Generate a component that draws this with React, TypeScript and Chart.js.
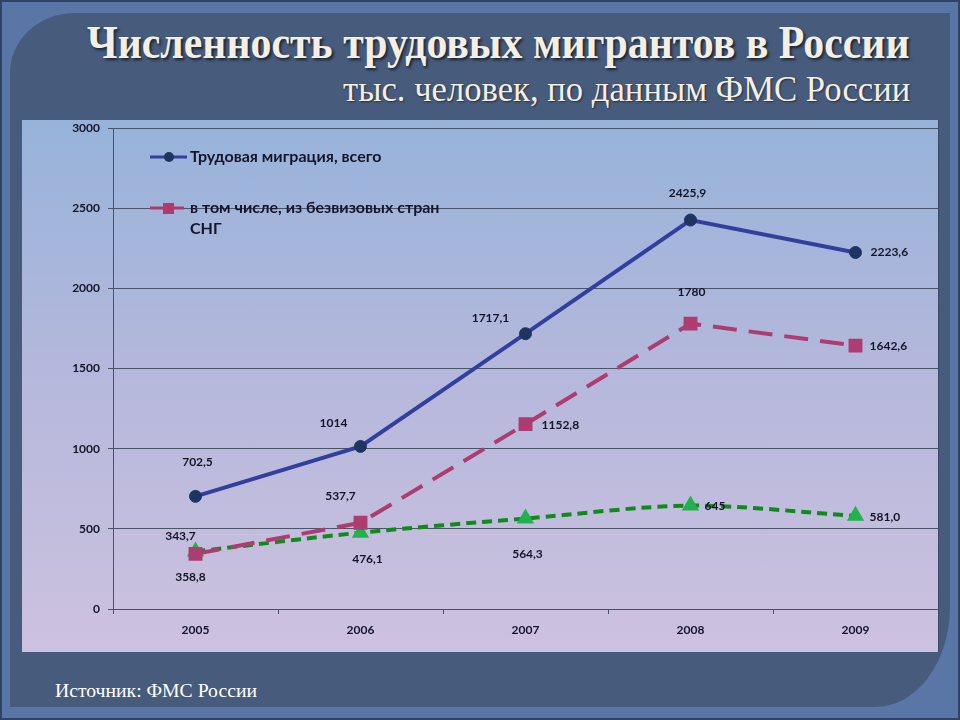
import React, { useEffect, useRef } from "react";
import { Chart, registerables } from "chart.js";

Chart.register(...registerables);

const categories = ["2005", "2006", "2007", "2008", "2009"];
const totalValues = [702.5, 1014, 1717.1, 2425.9, 2223.6];
const cisValues = [343.7, 537.7, 1152.8, 1780, 1642.6];
const otherValues = [358.8, 476.1, 564.3, 645, 581.0];
const totalText = ["702,5", "1014", "1717,1", "2425,9", "2223,6"];
const cisText = ["343,7", "537,7", "1152,8", "1780", "1642,6"];
const otherText = ["358,8", "476,1", "564,3", "645", "581,0"];
const legendLabels = ["Трудовая миграция, всего", "в том числе, из безвизовых стран", "СНГ"];
const yMin = 0;
const yMax = 3000;
const yStep = 500;

const TITLE = "Численность трудовых мигрантов в России";
const SUBTITLE = "тыс. человек, по данным ФМС России";
const FOOTER = "Источник: ФМС России";

// label placement per point: [dx, dy, align]
const totalPos: [number, number, CanvasTextAlign][] = [
  [2, -34, "center"], [-27, -23, "center"], [-35, -16, "center"], [-3, -27, "center"], [15, 0, "left"],
];
const cisPos: [number, number, CanvasTextAlign][] = [
  [-15, -18, "center"], [-20, -27, "center"], [16, 1, "left"], [1, -31, "center"], [14, 0, "left"],
];
const otherPos: [number, number, CanvasTextAlign][] = [
  [-5, 26, "center"], [7, 26, "center"], [2, 36, "center"], [14, 1, "left"], [14, 1, "left"],
];

const FONT_FAMILY = "Lato, 'Open Sans', sans-serif";
const LABEL_FONT = `bold 12px ${FONT_FAMILY}`;

const valueLabelPlugin = {
  id: "valueLabels",
  afterDatasetsDraw(chart: any) {
    const ctx = chart.ctx;
    const texts = [totalText, cisText, otherText];
    const poss = [totalPos, cisPos, otherPos];
    ctx.save();
    ctx.font = LABEL_FONT;
    ctx.fillStyle = "#15152a";
    ctx.textBaseline = "middle";
    chart.data.datasets.forEach((ds: any, i: number) => {
      const meta = chart.getDatasetMeta(i);
      meta.data.forEach((pt: any, j: number) => {
        const [dx, dy, al] = poss[i][j];
        ctx.textAlign = al;
        ctx.fillText(texts[i][j], pt.x + dx, pt.y + dy);
      });
    });
    ctx.restore();
  },
};

const legendPlugin = {
  id: "customLegend",
  afterDraw(chart: any) {
    const ctx = chart.ctx;
    ctx.save();
    // item 1
    ctx.strokeStyle = "#333f9c";
    ctx.lineWidth = 3;
    ctx.beginPath();
    ctx.moveTo(128, 37);
    ctx.lineTo(165, 37);
    ctx.stroke();
    ctx.fillStyle = "#1f3561";
    ctx.beginPath();
    ctx.arc(147, 37, 5, 0, Math.PI * 2);
    ctx.fill();
    // item 2
    ctx.strokeStyle = "#b03a6e";
    ctx.beginPath();
    ctx.moveTo(128, 88);
    ctx.lineTo(162, 88);
    ctx.stroke();
    ctx.fillStyle = "#b03a6e";
    ctx.fillRect(141, 83, 11, 11);
    ctx.font = `bold 16px ${FONT_FAMILY}`;
    ctx.fillStyle = "#15152a";
    ctx.textBaseline = "middle";
    ctx.textAlign = "left";
    ctx.fillText(legendLabels[0], 168, 37);
    ctx.fillText(legendLabels[1], 168, 88);
    ctx.fillText(legendLabels[2], 168, 109);
    ctx.restore();
  },
};

function FitText(props: { text: string; target: number; style: React.CSSProperties }) {
  const ref = useRef<HTMLDivElement>(null);
  useEffect(() => {
    const el = ref.current;
    if (!el) return;
    el.style.transform = "none";
    const w = el.scrollWidth;
    if (w > 0) el.style.transform = `scaleX(${props.target / w})`;
  }, [props.text, props.target]);
  return (
    <div ref={ref} style={{ position: "absolute", whiteSpace: "nowrap", ...props.style }}>
      {props.text}
    </div>
  );
}

export default function App() {
  const canvasRef = useRef<HTMLCanvasElement>(null);

  useEffect(() => {
    const canvas = canvasRef.current;
    if (!canvas) return;
    const chart = new Chart(canvas, {
      type: "line",
      data: {
        labels: categories,
        datasets: [
          {
            label: legendLabels[0],
            data: totalValues,
            borderColor: "#333f9c",
            backgroundColor: "#1f3561",
            borderWidth: 4,
            pointStyle: "circle",
            pointRadius: 6,
            pointBackgroundColor: "#1f3561",
            pointBorderColor: "#1f3561",
            pointBorderWidth: 1,
            tension: 0,
          },
          {
            label: legendLabels[1] + " " + legendLabels[2],
            data: cisValues,
            borderColor: "#ad3d70",
            backgroundColor: "#ad3d70",
            borderWidth: 4,
            borderDash: [24, 12],
            pointStyle: "rect",
            pointRadius: 7,
            pointBackgroundColor: "#ad3d70",
            pointBorderColor: "#ad3d70",
            tension: 0,
          },
          {
            label: "",
            data: otherValues,
            borderColor: "#118a1c",
            backgroundColor: "#22b24c",
            borderWidth: 4,
            borderDash: [10, 6],
            pointStyle: "triangle",
            pointRadius: 6,
            pointBackgroundColor: "#22b24c",
            pointBorderColor: "#22b24c",
            tension: 0.3,
          },
        ],
      },
      options: {
        animation: false,
        responsive: false,
        maintainAspectRatio: false,
        layout: { autoPadding: false, padding: { left: 0, top: 8, right: 0, bottom: 0 } },
        plugins: {
          legend: { display: false },
          tooltip: { enabled: false },
          title: { display: false },
        },
        scales: {
          x: {
            offset: true,
            grid: {
              offset: true,
              drawOnChartArea: false,
              drawTicks: true,
              tickLength: 5,
              color: "#4a5468",
            },
            border: { display: true, color: "#4a5468", width: 1 },
            ticks: {
              color: "#15152a",
              font: { family: FONT_FAMILY, size: 12, weight: "bold" },
              padding: 9,
            },
            afterFit: (s: any) => {
              s.height = 43;
              s.paddingLeft = 0;
              s.paddingRight = 0;
            },
          },
          y: {
            min: yMin,
            max: yMax,
            ticks: {
              stepSize: yStep,
              color: "#15152a",
              font: { family: FONT_FAMILY, size: 12, weight: "bold" },
              padding: 8,
              callback: (v: any) => String(v),
            },
            grid: { color: "#4a5468", lineWidth: 1, tickLength: 5 },
            border: { display: true, color: "#4a5468", width: 1 },
            afterFit: (s: any) => {
              s.width = 91;
              s.paddingTop = 0;
              s.paddingBottom = 0;
            },
          },
        },
      },
      plugins: [valueLabelPlugin, legendPlugin],
    } as any);
    return () => chart.destroy();
  }, []);

  return (
    <div
      style={{
        position: "absolute",
        left: 0,
        top: 0,
        width: 960,
        height: 720,
        background: "#5a76a6",
        overflow: "hidden",
        boxShadow: "inset 0 0 0 2px #2f4366",
      }}
    >
      <div
        style={{
          position: "absolute",
          left: 10,
          top: 13,
          width: 940,
          height: 694,
          background: "#475b7c",
          borderRadius: "65px 0 75px 0 / 60px 0 100px 0",
        }}
      />
      <FitText
        text={TITLE}
        target={823}
        style={{
          right: 50,
          top: 17,
          transformOrigin: "right center",
          fontFamily: "'Liberation Serif', serif",
          fontWeight: "bold",
          fontSize: 46,
          lineHeight: "52px",
          color: "#f3efe4",
          textShadow: "2px 2px 3px rgba(0,0,0,0.65)",
        }}
      />
      <FitText
        text={SUBTITLE}
        target={567}
        style={{
          right: 50,
          top: 70,
          transformOrigin: "right center",
          fontFamily: "'Liberation Serif', serif",
          fontSize: 36,
          lineHeight: "38px",
          color: "#f3efe4",
          textShadow: "1px 1px 2px rgba(0,0,0,0.5)",
        }}
      />
      <div
        style={{
          position: "absolute",
          left: 22,
          top: 120,
          width: 916,
          height: 532,
          background: "linear-gradient(to bottom, #97b3da 0%, #b6b8dc 50%, #cdc2df 100%)",
          boxShadow: "1px 0 0 #3c4a66",
        }}
      >
        <canvas ref={canvasRef} width={916} height={532} style={{ display: "block" }} />
      </div>
      <FitText
        text={FOOTER}
        target={202}
        style={{
          left: 55,
          top: 679,
          transformOrigin: "left center",
          fontFamily: "'Liberation Serif', serif",
          fontSize: 19,
          lineHeight: "24px",
          color: "#ffffff",
        }}
      />
    </div>
  );
}
